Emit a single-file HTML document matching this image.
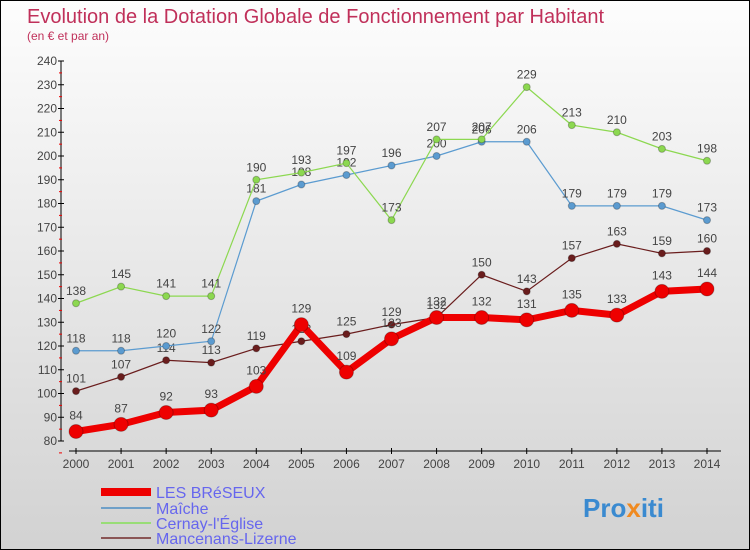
<!DOCTYPE html>
<html><head><meta charset="utf-8"><style>
body{margin:0}
#c{width:748px;height:548px;border:1px solid #000;position:relative;background:linear-gradient(#fdfdfd,#d2d2d2);font-family:"Liberation Sans",sans-serif;overflow:hidden}
</style></head><body>
<div id="c">
<svg id="s" width="748" height="548" style="position:absolute;left:0;top:0">
<text x="26" y="22" font-size="20" fill="#c0305a">Evolution de la Dotation Globale de Fonctionnement par Habitant</text>
<text x="26" y="39" font-size="12" fill="#c0305a">(en € et par an)</text>
<g id="ax"></g><g id="ser"></g>
<g>
<line x1="100" y1="491" x2="150" y2="491" stroke="#e00" stroke-width="8"/><text x="155" y="497" font-size="16" fill="#6666ee">LES BRéSEUX</text>
<line x1="100" y1="507" x2="150" y2="507" stroke="#6fa0c8" stroke-width="2"/><text x="155" y="513" font-size="16" fill="#6666ee">Maîche</text>
<line x1="100" y1="522" x2="150" y2="522" stroke="#99dd77" stroke-width="2"/><text x="155" y="528" font-size="16" fill="#6666ee">Cernay-l'Église</text>
<line x1="100" y1="537" x2="150" y2="537" stroke="#8a5555" stroke-width="2"/><text x="155" y="543" font-size="16" fill="#6666ee">Mancenans-Lizerne</text>
</g>
<text x="582" y="516" font-size="26" font-weight="bold"><tspan fill="#3a8ad0">Pro</tspan><tspan fill="#f08a20">x</tspan><tspan fill="#3a8ad0">iti</tspan></text>
</svg>
</div>
<script>
const years=[2000,2001,2002,2003,2004,2005,2006,2007,2008,2009,2010,2011,2012,2013,2014];
const yTicks=[80,90,100,110,120,130,140,150,160,170,180,190,200,210,220,230,240];
const breseux=[84,87,92,93,103,129,109,123,132,132,131,135,133,143,144];
const maiche=[118,118,120,122,181,188,192,196,200,206,206,179,179,179,173];
const cernay=[138,145,141,141,190,193,197,173,207,207,229,213,210,203,198];
const mancenans=[101,107,114,113,119,122,125,129,132,150,143,157,163,159,160];
const NS="http://www.w3.org/2000/svg";
const X=i=>75+i*(631/14);
const Y=v=>440-(v-80)*380/160;
function el(t,a,p){const e=document.createElementNS(NS,t);for(const k in a)e.setAttribute(k,a[k]);p.appendChild(e);return e;}
const ax=document.getElementById('ax');
el('line',{x1:60,y1:60,x2:60,y2:440,stroke:'#000'},ax);
el('line',{x1:68,y1:450,x2:720,y2:450,stroke:'#000'},ax);
yTicks.forEach(v=>{const y=Y(v);
el('line',{x1:57,y1:y,x2:63,y2:y,stroke:'#000'},ax);
el('line',{x1:58,y1:y+11.9,x2:61,y2:y+11.9,stroke:'#e00'},ax);
const t=el('text',{x:56,y:y+4,'font-size':12,fill:'#444','text-anchor':'end'},ax);t.textContent=v;

});
years.forEach((yr,i)=>{const x=X(i);
el('line',{x1:x,y1:447,x2:x,y2:453,stroke:'#000'},ax);
const t=el('text',{x:x,y:467,'font-size':12,fill:'#444','text-anchor':'middle'},ax);t.textContent=yr;

});
const ser=document.getElementById('ser');
function draw(data,color,w,r,name){
const g=el('g',{},ser);


el('polyline',{points:data.map((v,i)=>X(i)+','+Y(v)).join(' '),fill:'none',stroke:color,'stroke-width':w},g);
data.forEach((v,i)=>{const c=el('circle',{cx:X(i),cy:Y(v),r:r,fill:color,stroke:'rgba(0,0,0,0.25)'},g);


const t=el('text',{x:X(i),y:Y(v)-(r+5),'font-size':12,fill:'#444','text-anchor':'middle'},g);t.textContent=v;});
}
draw(mancenans,'#6a1d1d',1.2,3.5,'series-mancenans');
draw(maiche,'#5b9bd0',1.2,3.5,'series-maiche');
draw(cernay,'#8cd850',1.2,3.5,'series-cernay');
draw(breseux,'#ee0000',7,7,'series-les-breseux');
</script>
</body></html>
